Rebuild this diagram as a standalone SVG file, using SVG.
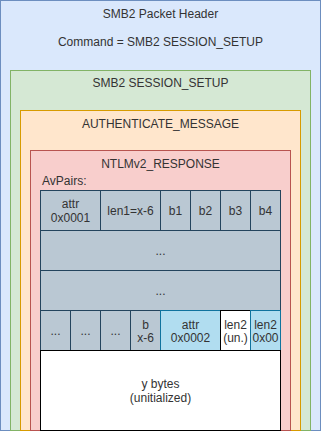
<svg xmlns="http://www.w3.org/2000/svg" width="321" height="431" viewBox="0 0 321 431">
<style>
text{font-family:"Liberation Sans",Arial,sans-serif;font-size:12px;fill:#333333;text-anchor:middle}
.g{fill:#bac8d3;stroke:#23445d}
.lb{fill:#b1ddf0;stroke:#10739e}
.w{fill:#ffffff;stroke:#000000}
</style>
<g id="smb2-header">
<rect x="0.5" y="0.5" width="320" height="430" fill="#dae8fc" stroke="#6c8ebf"/>
<text x="160.5" y="18">SMB2 Packet Header</text>
<text x="160.5" y="46">Command = SMB2 SESSION_SETUP</text>
</g>
<g id="session-setup">
<rect x="10.5" y="70.5" width="300" height="360" fill="#d5e8d4" stroke="#82b366"/>
<text x="160.5" y="87">SMB2 SESSION_SETUP</text>
</g>
<g id="authenticate-message">
<rect x="20.5" y="110.5" width="280" height="320" fill="#ffe6cc" stroke="#d79b00"/>
<text x="160.5" y="128">AUTHENTICATE_MESSAGE</text>
</g>
<g id="ntlmv2-response">
<rect x="30.5" y="150.5" width="260" height="280" fill="#f8cecc" stroke="#b85450"/>
<text x="160.5" y="168">NTLMv2_RESPONSE</text>
<text x="42" y="185" style="text-anchor:start">AvPairs:</text>
</g>
<g id="row1">
<rect class="g" x="40.5" y="190.5" width="60" height="40"/>
<text x="70.5" y="207.5">attr</text>
<text x="70.5" y="222">0x0001</text>
<rect class="g" x="100.5" y="190.5" width="60" height="40"/>
<text x="130.5" y="215">len1=x-6</text>
<rect class="g" x="160.5" y="190.5" width="30" height="40"/>
<text x="175.5" y="215">b1</text>
<rect class="g" x="190.5" y="190.5" width="30" height="40"/>
<text x="205.5" y="215">b2</text>
<rect class="g" x="220.5" y="190.5" width="30" height="40"/>
<text x="235.5" y="215">b3</text>
<rect class="g" x="250.5" y="190.5" width="30" height="40"/>
<text x="265.5" y="215">b4</text>
</g>
<g id="row2">
<rect class="g" x="40.5" y="230.5" width="240" height="40"/>
<text x="160.5" y="255">...</text>
</g>
<g id="row3">
<rect class="g" x="40.5" y="270.5" width="240" height="40"/>
<text x="160.5" y="295">...</text>
</g>
<g id="row4">
<rect class="g" x="40.5" y="310.5" width="30" height="40"/>
<text x="55.5" y="335">...</text>
<rect class="g" x="70.5" y="310.5" width="30" height="40"/>
<text x="85.5" y="335">...</text>
<rect class="g" x="100.5" y="310.5" width="30" height="40"/>
<text x="115.5" y="335">...</text>
<rect class="g" x="130.5" y="310.5" width="30" height="40"/>
<text x="145.5" y="328.5">b</text>
<text x="145.5" y="342">x-6</text>
<rect class="lb" x="160.5" y="310.5" width="60" height="40"/>
<text x="190.5" y="328.5">attr</text>
<text x="190.5" y="342">0x0002</text>
<rect class="w" x="220.5" y="310.5" width="30" height="40"/>
<text x="235.5" y="328.5">len2</text>
<text x="235.5" y="342">(un.)</text>
<rect class="lb" x="250.5" y="310.5" width="30" height="40"/>
<text x="265.5" y="328.5">len2</text>
<text x="265.5" y="342">0x00</text>
</g>
<g id="y-bytes">
<rect class="w" x="40.5" y="350.5" width="240" height="80"/>
<text x="160.5" y="387.5">y bytes</text>
<text x="160.5" y="402">(unitialized)</text>
</g>
<g id="connectors"/>
</svg>
